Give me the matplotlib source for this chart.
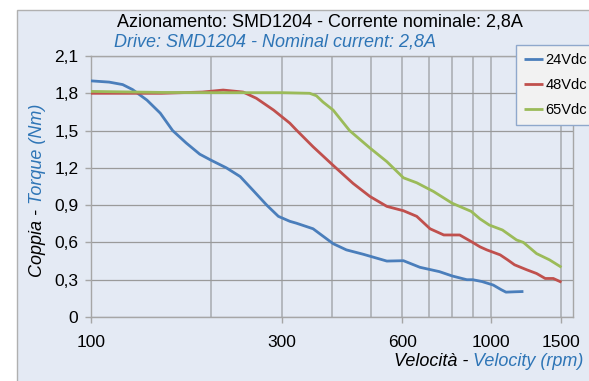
import matplotlib
matplotlib.use("Agg")
import matplotlib.pyplot as plt
from matplotlib.patches import Rectangle

plt.rcParams["font.family"] = ["Liberation Sans", "DejaVu Sans"]

# Curve data (rpm, Nm)
rpm_24 = [100, 111, 120, 127, 138, 149, 160, 173, 187, 200, 218, 236, 254,
          275, 294, 314, 326, 359, 403, 435, 479, 549, 604, 664, 743, 800,
          870, 900, 950, 1013, 1060, 1090, 1150, 1205]
torque_24 = [1.90, 1.89, 1.87, 1.83, 1.745, 1.64, 1.50, 1.40, 1.31, 1.26,
             1.20, 1.13, 1.02, 0.90, 0.81, 0.77, 0.755, 0.71, 0.59, 0.54,
             0.505, 0.45, 0.453, 0.40, 0.365, 0.33, 0.30, 0.30, 0.285, 0.257,
             0.22, 0.20, 0.203, 0.205]

rpm_48 = [100, 150, 190, 214, 240, 259, 286, 314, 326, 359, 403, 452, 498,
          549, 604, 652, 704, 762, 835, 900, 938, 976, 1054, 1100, 1145, 1228,
          1300, 1366, 1431, 1500]
torque_48 = [1.80, 1.80, 1.81, 1.826, 1.81, 1.76, 1.665, 1.56, 1.505, 1.37,
             1.22, 1.075, 0.97, 0.89, 0.855, 0.81, 0.71, 0.66, 0.66, 0.60,
             0.565, 0.54, 0.50, 0.46, 0.42, 0.38, 0.35, 0.31, 0.31, 0.28]

rpm_65 = [100, 150, 200, 250, 300, 352, 366, 380, 403, 443, 498, 549, 604,
          652, 718, 800, 892, 938, 990, 1068, 1158, 1205, 1300, 1400, 1500]
torque_65 = [1.815, 1.807, 1.805, 1.805, 1.805, 1.80, 1.78, 1.73, 1.665, 1.50,
             1.36, 1.25, 1.12, 1.08, 1.01, 0.915, 0.85, 0.79, 0.74, 0.70,
             0.62, 0.60, 0.51, 0.46, 0.40]

series_labels = ["24Vdc", "48Vdc", "65Vdc"]
series_colors = ["#4A7EBB", "#C0504D", "#9BBB59"]

x_ticks = [100, 300, 600, 1000, 1500]
x_grid = [100, 200, 300, 400, 500, 600, 700, 800, 900, 1000, 1500]
y_ticks = [0, 0.3, 0.6, 0.9, 1.2, 1.5, 1.8, 2.1]

BG = "#E4EAF4"
BLUE_TXT = "#2E75B6"
GRID = "#A6A6A6"

fig = plt.figure(figsize=(5.89, 3.81), dpi=100, facecolor="white")
frame = Rectangle((17 / 589, -0.05), 1.0, 1.05 - 10 / 381,
                  transform=fig.transFigure, facecolor=BG,
                  edgecolor="#B0B0B0", linewidth=1.0, zorder=-10)
fig.add_artist(frame)

ax = fig.add_axes([91 / 589, 1 - 317 / 381, (573 - 91) / 589, (317 - 56) / 381])
ax.set_zorder(2)
ax.set_facecolor(BG)
ax.set_xscale("log")
ax.set_xlim(100, 1603)
ax.set_ylim(0, 2.1)

for xv in x_grid:
    ax.axvline(xv, color="#B4B8BE", linewidth=1.4, zorder=1)
for yv in y_ticks:
    ax.axhline(yv, color="#9A9A9A", linewidth=0.9, zorder=1)

for xs, ys, lab, col in zip([rpm_24, rpm_48, rpm_65],
                            [torque_24, torque_48, torque_65],
                            series_labels, series_colors):
    ax.plot(xs, ys, color=col, linewidth=2.0, label=lab, zorder=3,
            solid_capstyle="butt", solid_joinstyle="round")

ax.set_xticks(x_ticks)
ax.set_xticklabels([str(v) for v in x_ticks])
ax.xaxis.set_minor_locator(matplotlib.ticker.NullLocator())
ax.set_yticks(y_ticks)
ax.set_yticklabels([("%.1f" % v).replace(".", ",") if v else "0" for v in y_ticks])
ax.tick_params(axis="both", labelsize=12.5, colors=GRID, labelcolor="black",
               length=4, width=1)
ax.tick_params(axis="x", pad=9)
ax.tick_params(axis="y", pad=5)
for side in ["left", "bottom", "right", "top"]:
    ax.spines[side].set_color(GRID)
    ax.spines[side].set_linewidth(1.0)

leg = ax.legend(loc="upper left", bbox_to_anchor=(516 / 589, 1 - 45 / 381),
                bbox_transform=fig.transFigure, fontsize=10.5, frameon=True,
                fancybox=False, handlelength=1.3, handletextpad=0.15,
                labelspacing=0.75, borderpad=0.55, borderaxespad=0)
leg.get_frame().set_facecolor("#F2F2F2")
leg.get_frame().set_edgecolor("#8FA8CC")
leg.get_frame().set_alpha(1)

# Titles
fig.text(117 / 589, 1 - 22 / 381, "Azionamento: SMD1204 - Corrente nominale: 2,8A",
         fontsize=13, color="black", ha="left", va="center")
fig.text(114 / 589, 1 - 42 / 381, "Drive: SMD1204 - Nominal current: 2,8A",
         fontsize=13, color=BLUE_TXT, style="italic", ha="left", va="center")

# Mixed-colour axis labels
renderer = fig.canvas.get_renderer()
t1 = fig.text(394 / 589, 1 - 362 / 381, "Velocità - ", fontsize=13,
              style="italic", color="black", ha="left", va="center")
bb = t1.get_window_extent(renderer)
fig.text(bb.x1 / fig.bbox.width, 1 - 362 / 381, "Velocity (rpm)", fontsize=13,
         style="italic", color=BLUE_TXT, ha="left", va="center")

t2 = fig.text(38 / 589, 1 - 277 / 381, "Coppia - ", fontsize=13, rotation=90,
              style="italic", color="black", ha="center", va="bottom")
bb = t2.get_window_extent(renderer)
fig.text(38 / 589, bb.y1 / fig.bbox.height, "Torque (Nm)", fontsize=13,
         rotation=90, style="italic", color=BLUE_TXT, ha="center", va="bottom")

fig.savefig("out.png", dpi=100, facecolor="white")
